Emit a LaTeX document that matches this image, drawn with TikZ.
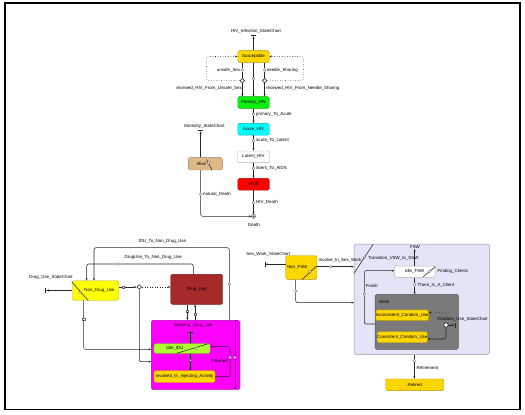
\documentclass[tikz,border=0pt]{standalone}
\usepackage{fontspec}
\setmainfont{Liberation Sans}
\usepackage{xcolor}
\usetikzlibrary{arrows.meta,positioning,shapes,calc}
\definecolor{stGold}{HTML}{FFD700}
\definecolor{stLime}{HTML}{11EE11}
\definecolor{stCyan}{HTML}{00FFFF}
\definecolor{stRed}{HTML}{FF0000}
\definecolor{stTan}{HTML}{DEB887}
\definecolor{stYellow}{HTML}{FFFF00}
\definecolor{stBrown}{HTML}{A52A2A}
\definecolor{stMagenta}{HTML}{FF00FF}
\definecolor{stGreenYellow}{HTML}{ADFF2F}
\definecolor{stLavender}{HTML}{E4E4F8}
\definecolor{stGray}{HTML}{7A7A7A}
\newcommand{\chartfont}{\fontsize{4.4}{5}\selectfont}

\begin{document}
\begin{tikzpicture}[x = 1pt, y = -1pt, >={Stealth[length = 2.4pt, width = 2pt]},
    every node/.style = {font = \chartfont},
    st/.style = {draw = #1!70!black, fill = #1, rounded corners = 1.5pt, inner sep = 0, line width = .4pt},
    lbl/.style = {inner sep = 0},
    tr/.style = {->, draw = black!85, line width = .55pt},
    ln/.style = {draw = black!85, line width = .55pt},
    mk/.style = {circle, draw = black!60, fill = white, inner sep = 0, minimum size = 2.8pt, line width = .35pt},
    mks/.style = {rectangle, draw = black!60, fill = white, inner sep = 0, minimum size = 2.5pt, line width = .35pt},
    br/.style = {diamond, draw = black!85, fill = white, inner sep = 0, minimum size = 4.8pt, line width = .55pt},
    hbar/.style = {fill = black!85, inner sep = 0, minimum width = 5pt, minimum height = .9pt},
    vbar/.style = {fill = black!85, inner sep = 0, minimum width = .9pt, minimum height = 5pt},
    slash/.style = {draw = black!85, line width = .55pt}]
    \useasboundingbox (0,0) rectangle (525,415);
    \draw[line width = 1.6pt] (5,3) rectangle (520,409.5);

    % HIV infection
    \node[st = stGold, minimum width = 31.5pt, minimum height = 11.7pt] (sus) at (253.5,56.5) {Susceptible};
    \node[st = stLime, minimum width = 31.5pt, minimum height = 11.7pt] (prim) at (253.5,102.5) {Primary\_HIV};
    \node[st = stCyan, minimum width = 31.5pt, minimum height = 11.7pt] (acute) at (253.5,129.2) {Acute\_HIV};
    \node[st = white, minimum width = 32.5pt, minimum height = 11.7pt] (latent) at (253.5,156.8) {Latent\_HIV};
    \node[st = stRed, minimum width = 31.5pt, minimum height = 11.7pt] (aids) at (253.5,184.2) {AIDS};
    \node[circle, draw = black!85, inner sep = 0, minimum size = 4pt,
        path picture = {\fill[black!85] (path picture bounding box.center) circle (1pt);}] (death) at (253.5,216.3) {};
    \node[st = stTan, minimum width = 34pt, minimum height = 12.3pt] (alive) at (205.3,163.8) {Alive\hspace*{8pt}};

    \node[hbar] (hivbar) at (253.5,35.7) {};
    \node[hbar] (mortbar) at (200.7,130.7) {};
    \node[mk] (ml) at (242.3,70) {};
    \node[br] (dl) at (242.3,80.7) {};
    \node[mk] (mm) at (253.5,78.5) {};
    \node[mk] (mr) at (264.7,70) {};
    \node[br] (dr) at (264.7,80.7) {};
    \node[mk] (m1) at (253.5,114.3) {};
    \node[mk] (m2) at (253.5,140.7) {};
    \node[mk] (m3) at (253.5,168.3) {};
    \node[mk] (m4) at (253.5,202.7) {};
    \node[mk] (m5) at (200.7,194.3) {};
    \coordinate (loopL) at (206.7,68);
    \coordinate (loopR) at (303.3,68);

    \draw[tr] (sus) -- (hivbar);
    \draw[ln] (sus.south -| ml) -- (ml) -- (dl);
    \draw[tr] (dl) -- (dl |- prim.north);
    \draw[ln] (sus.south -| mr) -- (mr) -- (dr);
    \draw[tr] (dr) -- (dr |- prim.north);
    \draw[tr] (sus) -- (mm) -- (prim);
    \draw[tr, dotted, rounded corners = 2pt] (dl.west) -| (loopL) |- (sus.west);
    \draw[tr, dotted, rounded corners = 2pt] (dr.east) -| (loopR) |- (sus.east);
    \draw[tr] (prim) -- (m1) -- (acute);
    \draw[tr] (acute) -- (m2) -- (latent);
    \draw[tr] (latent) -- (m3) -- (aids);
    \draw[tr] (aids) -- (m4) -- (death);
    \draw[tr] (alive.north -| mortbar) -- (mortbar);
    \draw[tr, rounded corners = 2pt] (alive.south -| m5) -- (m5) |- (death);
    \draw[slash] (206.5,159.5) -- (212,170);
    \node[mk] (aliveint) at (208.5,163) {};

    % Drug use
    \node[st = stYellow, minimum width = 46pt, minimum height = 19.5pt] (ndu) at (95.5,290.5) {\hspace*{8pt}Non\_Drug\_Use};
    \node[st = stBrown, minimum width = 52pt, minimum height = 30pt] (du) at (196.7,289.3) {Drug\_Use};
    \node[st = stMagenta, minimum width = 88.7pt, minimum height = 69pt] (idu) at (195.65,354.8) {};
    \node[st = stGreenYellow, minimum width = 56pt, minimum height = 9.6pt] (idle) at (182,348.5) {Idle\_IDU\hspace*{14pt}};
    \node[st = stGold, minimum width = 61pt, minimum height = 12pt] (inv) at (184.5,376.7) {Involved\_In\_Injecting\_Activity};

    \node[vbar] (dubar) at (45.7,290.5) {};
    \node[mks] (mk6) at (123.3,287) {};
    \node[br] (dbr) at (139.3,287) {};
    \node[mks] (mk7) at (83.7,319.3) {};
    \node[mk] (mk8) at (118.3,264) {};
    \node[mk] (mk9) at (229.3,284.3) {};
    \node[mks] (mk10) at (187.3,311) {};
    \node[mks] (mk11) at (195,314.3) {};
    \node[hbar] (idubar) at (190.3,332.5) {};
    \node[mks] (mk12) at (190.3,360) {};
    \node[mk] (mk13) at (230,357.3) {};
    \node[mk] (mk14) at (235,357.3) {};
    \coordinate (jd1) at (139.3,361.7);
    \coordinate (jd2) at (83.7,349.3);
    \coordinate (dnR) at (193.3,264);
    \coordinate (dnL) at (86.7,264);
    \coordinate (inR) at (229.3,247.7);
    \coordinate (inL) at (94,247.7);
    \coordinate (fnB) at (230,376.7);
    \coordinate (fnT) at (230,346.7);

    \draw[tr] (ndu.west |- dubar) -- (dubar);
    \draw[tr] (ndu.east |- mk6) -- (mk6) -- (dbr);
    \draw[tr, dotted] (dbr) -- (dbr -| du.west);
    \draw[tr, rounded corners = 2pt] (dbr) -- (jd1) -- (jd1 -| idu.west);
    \draw[tr, rounded corners = 2pt] (ndu.south -| mk7) -- (mk7) -- (jd2) -- (jd2 -| idu.west);
    \draw[tr, rounded corners = 2pt] (du.north -| dnR) -- (dnR) -- (mk8) -- (dnL) -- (dnL |- ndu.north);
    \draw[tr, rounded corners = 2pt] (idu.north -| inR) -- (mk9) -- (inR) -- (inL) -- (inL |- ndu.north);
    \draw[tr] (du.south -| mk10) -- (mk10) -- (mk10 |- idu.north);
    \draw[tr] (idu.north -| mk11) -- (mk11) -- (mk11 |- du.south);
    \draw[tr] (idubar) -- (idubar |- idle.north);
    \draw[tr] (idle.south -| mk12) -- (mk12) -- (mk12 |- inv.north);
    \draw[tr, rounded corners = 2pt] (inv.east |- fnB) -- (fnB) -- (mk13) -- (fnT) -- (fnT -| idle.east);
    \draw[tr] (idu.north -| mk14) -- (mk14) -- (mk14 |- idu.south);
    \draw[slash] (71.7,281.7) -- (88.3,300.7);
    \node[mk] (nduint) at (80,292.3) {};
    \draw[slash] (176.7,353.3) -- (208.3,343.7);
    \node[mk] (idleint) at (196,348.3) {};

    % Sex work
    \node[st = stGold, minimum width = 31pt, minimum height = 23.6pt] (nfsw) at (301.2,267.5) {Non\_FSW\hspace*{8pt}};
    \node[st = stLavender, draw = black!40, minimum width = 135.3pt, minimum height = 110.3pt] (fsw) at (421.7,299.2) {};
    \node[st = white, minimum width = 40.7pt, minimum height = 11.3pt] (ifsw) at (414.7,271.7) {Idle\_FSW};
    \node[st = stGray, minimum width = 83.3pt, minimum height = 55pt] (work) at (416.7,321.8) {};
    \node[st = stGold, minimum width = 45.7pt, minimum height = 10.7pt] (icu) at (402.2,315.3) {Inconsistent\_Condom\_Use};
    \node[st = stGold, minimum width = 46pt, minimum height = 11pt] (ccu) at (402.3,337.2) {Consistent\_Condom\_Use};
    \node[st = stGold, minimum width = 58pt, minimum height = 11.7pt] (retired) at (414.7,384.8) {Retired};

    \node[vbar] (swbar) at (265,264.3) {};
    \node[mk] (mk15) at (330.7,266.7) {};
    \node[mk] (mk16) at (295.7,291) {};
    \node[mk] (mk17) at (414.7,285) {};
    \node[mk] (mk18) at (364.3,294) {};
    \node[mk] (mk19) at (414.3,360.7) {};
    \node[circle, draw = black!85, fill = white, inner sep = 0, minimum size = 4.4pt, line width = .55pt] (cbr) at (446,325) {};
    \node[vbar] (cubar) at (455,325) {};
    \coordinate (nfB) at (295.7,302.7);
    \coordinate (fiB) at (364.3,324);
    \coordinate (fiT) at (364.3,270.7);
    \coordinate (cuT) at (446,312.7);
    \coordinate (cuB) at (446,339);

    \draw[tr] (nfsw.west |- swbar) -- (swbar);
    \draw[tr] (nfsw.east |- mk15) -- (mk15) -- (mk15 -| fsw.west);
    \draw[tr, rounded corners = 2pt] (nfsw.south -| mk16) -- (mk16) -- (nfB) -- (nfB -| fsw.west);
    \draw[tr] (ifsw) -- (mk17) -- (work.north -| mk17);
    \draw[tr, rounded corners = 2pt] (work.west |- fiB) -- (fiB) -- (mk18) -- (fiT) -- (fiT -| ifsw.west);
    \draw[tr] (cbr) -- (cubar);
    \draw[tr, dotted, rounded corners = 2pt] (cbr) -- (cuT) -- (cuT -| icu.east);
    \draw[tr, rounded corners = 2pt] (cbr) -- (cuB) -- (cuB -| ccu.east);
    \draw[tr] (fsw.south -| mk19) -- (mk19) -- (mk19 |- retired.north);
    \draw[slash] (302.3,279.3) -- (316.7,266);
    \node[mk] (nfswint) at (310,271.8) {};
    \draw[slash] (354,273.3) -- (373.3,244);
    \node[mk] (fswint) at (364.5,257.3) {};
    \draw[slash] (423.3,276.7) -- (435.5,266.5);
    \node[mk] (ifswint) at (429.3,271.7) {};

    % Labels
    \node[lbl] (hivlbl) at (256,31) {HIV\_Infection\_StateChart};
    \node[lbl, anchor = east] (unsafelbl) at (240.3,70) {unsafe\_Sex};
    \node[lbl, anchor = west] (needlelbl) at (266.7,70) {needle\_Sharing};
    \node[lbl, anchor = east] (rulbl) at (242,88.3) {received\_HIV\_From\_Unsafe\_Sex};
    \node[lbl, anchor = west] (rnlbl) at (266,88.3) {received\_HIV\_From\_Needle\_Sharing};
    \node[lbl, anchor = west] (m1lbl) at (256,114.3) {primary\_To\_Acute};
    \node[lbl, anchor = west] (m2lbl) at (256,140.7) {acute\_To\_Latent};
    \node[lbl, anchor = west] (m3lbl) at (256,168.3) {latent\_To\_AIDS};
    \node[lbl, anchor = west] (m4lbl) at (256,202.7) {HIV\_Death};
    \node[lbl] (deathlbl) at (254,225) {Death};
    \node[lbl] (mortlbl) at (204.5,126.3) {Mortality\_StateChart};
    \node[lbl, anchor = west] (m5lbl) at (203,194.3) {natural\_Death};
    \node[lbl] (dulbl) at (51,277.7) {Drug\_Use\_StateChart};
    \node[lbl] (dnlbl) at (153.3,257.3) {DrugUse\_To\_Non\_Drug\_Use};
    \node[lbl] (inlbl) at (162.3,241) {IDU\_To\_Non\_Drug\_Use};
    \node[lbl] (idulbl) at (193.3,325.7) {Injecting\_Drug\_Use};
    \node[lbl, anchor = east] (fnlbl) at (228,360.7) {Finished};
    \node[lbl] (swlbl) at (268.3,254) {Sex\_Work\_StateChart};
    \node[lbl] (invlbl) at (340,260.7) {Involve\_In\_Sex\_Work};
    \node[lbl, anchor = west] (tvlbl) at (368,258.3) {Transition\_VSW\_to\_SSW};
    \node[lbl] (fswlbl) at (415,247.3) {FSW};
    \draw[tr] (ifsw.north) -- (ifsw.north |- fswlbl.south);
    \node[lbl, anchor = west] (fclbl) at (437.5,271.7) {Finding\_Clients};
    \node[lbl, anchor = west] (tclbl) at (417.5,285) {There\_Is\_A\_Client};
    \node[lbl] (filbl) at (371.7,286) {Finish};
    \node[lbl, anchor = west] (worklbl) at (379,301.7) {Work};
    \node[lbl] (culbl) at (462.5,319.3) {Condom\_Use\_StateChart};
    \node[lbl, anchor = west] (retlbl) at (416.5,367.7) {Retirement};
\end{tikzpicture}
\end{document}
